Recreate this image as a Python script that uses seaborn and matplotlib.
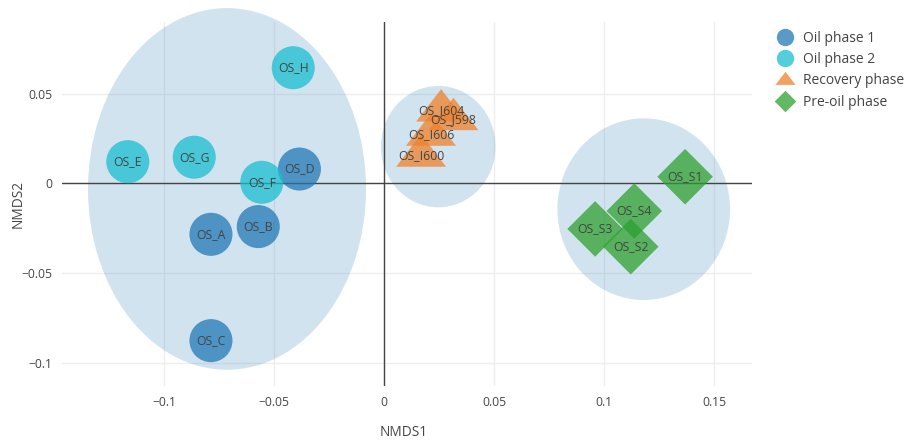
import numpy as np
import pandas as pd
import matplotlib
matplotlib.use("Agg")
import matplotlib.pyplot as plt
from matplotlib.patches import Ellipse
from matplotlib.lines import Line2D
import seaborn as sns

# NMDS ordination scores per sample
samples = ["OS_A", "OS_B", "OS_C", "OS_D",
           "OS_E", "OS_F", "OS_G", "OS_H",
           "OS_I604", "OS_J598", "OS_I606", "OS_I600",
           "OS_S1", "OS_S4", "OS_S3", "OS_S2"]
nmds1 = [-0.0788, -0.0573, -0.0788, -0.0386,
         -0.1166, -0.0557, -0.0864, -0.0414,
         0.0258, 0.0314, 0.0212, 0.0167,
         0.1367, 0.1136, 0.0958, 0.1120]
nmds2 = [-0.0284, -0.0241, -0.0877, 0.0080,
         0.0121, 0.0006, 0.0146, 0.0645,
         0.0405, 0.0357, 0.0270, 0.0153,
         0.0037, -0.0154, -0.0254, -0.0353]
phase = (["Oil phase 1"] * 4 + ["Oil phase 2"] * 4 +
         ["Recovery phase"] * 4 + ["Pre-oil phase"] * 4)

groups = ["Oil phase 1", "Oil phase 2", "Recovery phase", "Pre-oil phase"]
group_colors = ["#1f77b4", "#17becf", "#f0812a", "#2ca02c"]

# cluster ellipses: centre x, centre y, width, height (data units)
ell_x = [-0.0715, 0.0245, 0.1179]
ell_y = [-0.0031, 0.0205, -0.0144]
ell_w = [0.1264, 0.0521, 0.0785]
ell_h = [0.2017, 0.0677, 0.1013]

xticks = [-0.1, -0.05, 0, 0.05, 0.1, 0.15]
xtick_labels = ["\u22120.1", "\u22120.05", "0", "0.05", "0.1", "0.15"]
yticks = [-0.1, -0.05, 0, 0.05]
ytick_labels = ["\u22120.1", "\u22120.05", "0", "0.05"]

df = pd.DataFrame({"sample": samples, "NMDS1": nmds1, "NMDS2": nmds2, "phase": phase})

sns.set_theme(style="white")
plt.rcParams["font.family"] = ["Open Sans", "DejaVu Sans"]

# marker shapes: wide triangle and diamond
tri = [(-1.155, -0.5), (1.155, -0.5), (0.0, 1.0)]
dia = [(0.0, 1.0), (1.0, 0.0), (0.0, -1.0), (-1.0, 0.0)]
marker_map = {"Oil phase 1": "o", "Oil phase 2": "o", "Recovery phase": tri, "Pre-oil phase": dia}
size_map = {"Oil phase 1": 31 ** 2, "Oil phase 2": 31 ** 2,
            "Recovery phase": 36 ** 2, "Pre-oil phase": 40 ** 2}
palette = dict(zip(groups, group_colors))
opacity = 0.74

fig = plt.figure(figsize=(9.05, 4.43), dpi=100)
ax = fig.add_axes([62 / 905, 57 / 443, 690 / 905, 364 / 443])

ax.set_xlim(-0.1465, 0.1671)
ax.set_ylim(-0.1130, 0.0900)

for cx, cy, w, h in zip(ell_x, ell_y, ell_w, ell_h):
    ax.add_patch(Ellipse((cx, cy), w, h, facecolor="#1f77b4", alpha=0.2,
                         edgecolor="none", zorder=1, clip_on=False))

ax.axhline(0, color="#444444", lw=1.0, zorder=2)
ax.axvline(0, color="#444444", lw=1.0, zorder=2)

sns.scatterplot(data=df, x="NMDS1", y="NMDS2", hue="phase", style="phase",
                size="phase", hue_order=groups, style_order=groups, size_order=groups,
                palette=palette, markers=marker_map, sizes=size_map,
                alpha=opacity, linewidth=0, legend=False, ax=ax, zorder=3)

for name, x, y in zip(samples, nmds1, nmds2):
    ax.text(x, y, name, ha="center", va="center", fontsize=8.8,
            color="#444444", zorder=4)

ax.set_xticks(xticks)
ax.set_xticklabels(xtick_labels)
ax.set_yticks(yticks)
ax.set_yticklabels(ytick_labels)
ax.tick_params(axis="both", length=0, labelsize=8.7, labelcolor="#444444", pad=7)
ax.grid(True, color="#eeeeee", lw=1.0, zorder=0)
ax.set_axisbelow(True)
for sp in ax.spines.values():
    sp.set_visible(False)
ax.set_xlabel("")
ax.set_ylabel("")

fig.text(404 / 905, 1 - 432 / 443, "NMDS1", ha="center", va="center",
         fontsize=9.8, color="#444444")
fig.text(18 / 905, 1 - 204 / 443, "NMDS2", ha="center", va="center",
         rotation=90, fontsize=9.8, color="#444444")

handles = []
legend_ms = {"Oil phase 1": 12.5, "Oil phase 2": 12.5, "Recovery phase": 14.5, "Pre-oil phase": 15.5}
for g, c in zip(groups, group_colors):
    handles.append(Line2D([], [], linestyle="none", marker=marker_map[g],
                          markersize=legend_ms[g], markerfacecolor=c,
                          markeredgewidth=0, alpha=opacity, label=g))
leg = fig.legend(handles=handles, loc="upper left",
                 bbox_to_anchor=(770 / 905, 1 - 24 / 443),
                 frameon=False, fontsize=10, labelspacing=0.45,
                 handlelength=1.2, handletextpad=0.7, borderpad=0)
for t in leg.get_texts():
    t.set_color("#444444")

fig.savefig("out.png", dpi=100)
